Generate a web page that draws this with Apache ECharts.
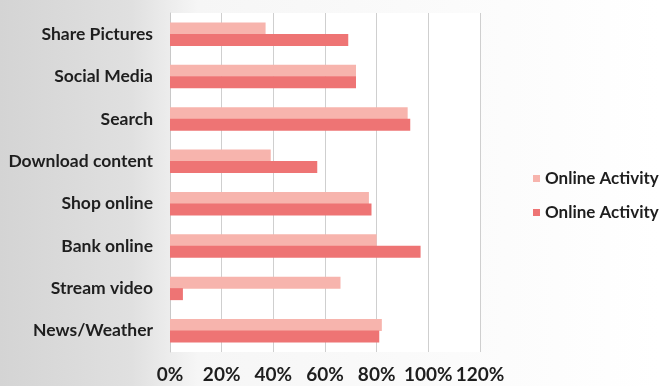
<!DOCTYPE html>
<html>
<head>
<meta charset="utf-8">
<script src="https://cdn.jsdelivr.net/npm/echarts@6/dist/echarts.min.js"></script>
<style>
  html, body { margin: 0; padding: 0; }
  #chart { width: 660px; height: 386px; }
</style>
</head>
<body>
<div id="chart"></div>
<script>
var categories = ['Share Pictures', 'Social Media', 'Search', 'Download content',
  'Shop online', 'Bank online', 'Stream video', 'News/Weather'];
var seriesNames = ['Online Activity', 'Online Activity'];
var lightValues = [37, 72, 92, 39, 77, 80, 66, 82];
var darkValues = [69, 72, 93, 57, 78, 97, 5, 81];

var chart = echarts.init(document.getElementById('chart'));
var labelFont = { color: '#1e1e1e', fontSize: 17.5, fontWeight: 'bold', fontFamily: 'Lato' };

var option = {
  backgroundColor: new echarts.graphic.LinearGradient(0, 0, 1, 0, [
    { offset: 0, color: '#d4d4d4' },
    { offset: 0.2, color: '#e0e0e0' },
    { offset: 0.3, color: '#f6f6f6' },
    { offset: 1, color: '#ffffff' }
  ]),
  animation: false,
  grid: {
    left: 170, right: 180, top: 13, bottom: 34,
    show: true, backgroundColor: '#ffffff', borderWidth: 0
  },
  legend: {
    orient: 'vertical',
    left: 528,
    top: 165,
    itemWidth: 7,
    itemHeight: 7,
    itemGap: 17,
    icon: 'rect',
    textStyle: Object.assign({}, labelFont, { fontSize: 17 }),
    data: [
      { name: 'Online Activity', itemStyle: { color: '#f7b4ad' } },
      { name: 'Online Activity ', itemStyle: { color: '#ee7474' } }
    ]
  },
  xAxis: {
    type: 'value',
    min: 0, max: 120, interval: 20,
    axisLabel: Object.assign({ formatter: '{value}%', margin: 13 }, labelFont, { fontSize: 19 }),
    axisLine: { show: false },
    axisTick: { show: false },
    splitLine: { lineStyle: { color: '#cfcfcf', width: 1 } }
  },
  yAxis: {
    type: 'category',
    inverse: true,
    data: categories,
    axisLabel: Object.assign({ margin: 17 }, labelFont),
    axisLine: { lineStyle: { color: '#c8c8c8' } },
    axisTick: { show: false }
  },
  series: [
    {
      name: seriesNames[0],
      type: 'bar',
      data: lightValues,
      barWidth: 12,
      barGap: '-5%',
      itemStyle: { color: '#f7b4ad' }
    },
    {
      name: seriesNames[1] + ' ',
      type: 'bar',
      data: darkValues,
      barWidth: 12,
      itemStyle: { color: '#ee7474' }
    }
  ]
};
chart.setOption(option);
</script>
</body>
</html>
